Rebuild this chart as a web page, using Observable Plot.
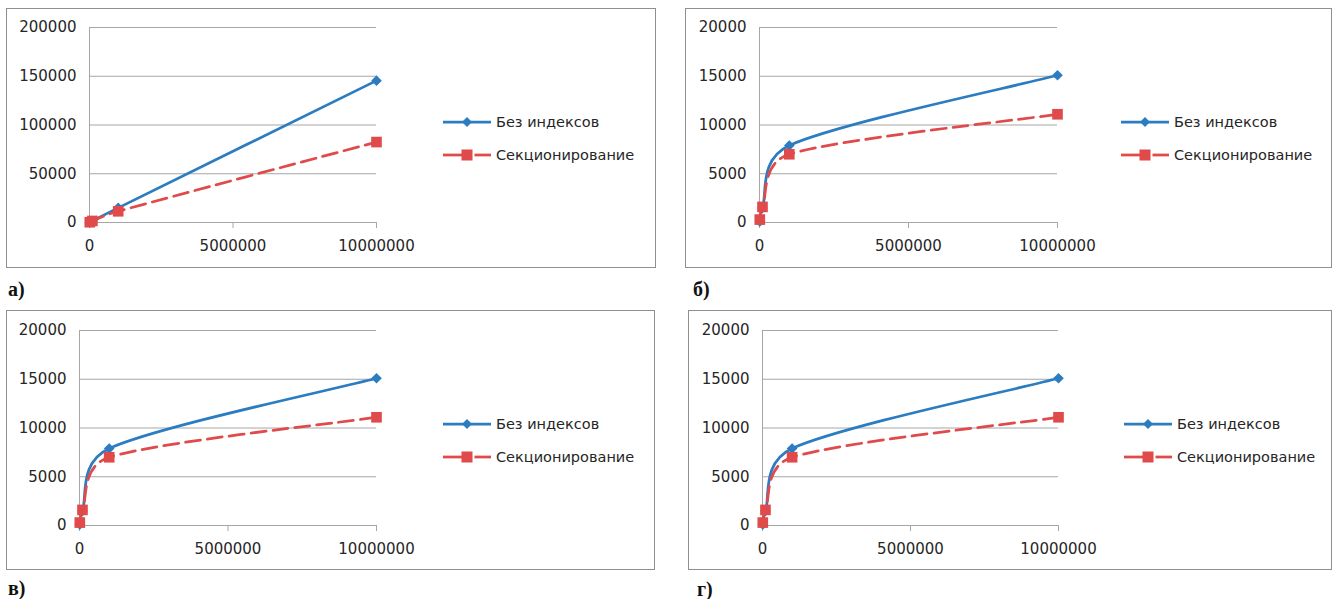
<!DOCTYPE html>
<html>
<head>
<meta charset="utf-8">
<script src="https://cdn.jsdelivr.net/npm/d3@7"></script>
<script src="https://cdn.jsdelivr.net/npm/@observablehq/plot@0.6"></script>
<style>
  body { margin: 0; background: #fff; }
  #page { position: relative; width: 1335px; height: 599px; overflow: hidden; font-family: "DejaVu Sans", sans-serif; }
  .box { position: absolute; border: 1px solid #8f8f8f; box-sizing: border-box; }
  .tag { position: absolute; font-family: "Liberation Serif", serif; font-weight: bold; font-size: 20px; line-height: 18px; color: #111; }
  .legend-row { position: absolute; height: 20px; display: flex; align-items: center; font-size: 14.5px; color: #262626; white-space: nowrap; }
  .legend-row svg { margin-right: 5px; }
  svg.chart { position: absolute; }
</style>
</head>
<body>
<div id="page"></div>
<script>
// Table sizes (rows) on the x axis
const sizes = [10000, 100000, 1000000, 10000000];
const seriesNames = ["Без индексов", "Секционирование"];
const panelTags = ["а)", "б)", "в)", "г)"];

// Query time per panel: without indexes vs. partitioning
const noIndexA = [100, 1500, 15000, 145500];
const partitionA = [300, 1600, 11500, 82500];
const noIndexB = [100, 1500, 7900, 15100];
const partitionB = [300, 1600, 7000, 11100];
const noIndexC = [100, 1500, 7900, 15100];
const partitionC = [300, 1600, 7000, 11100];
const noIndexD = [100, 1500, 7900, 15100];
const partitionD = [300, 1600, 7000, 11100];

const xTicks = [0, 5000000, 10000000];
const yTicksA = [0, 50000, 100000, 150000, 200000];
const yTicksOther = [0, 5000, 10000, 15000, 20000];

const BLUE = "#2b7cc0";
const RED = "#e04a4a";
const GRID = "#a6a6a6";
const TEXT = "#262626";

// Page layout of the four panels: box edges and plot frame edges
const layout = [
  { box: [6, 8, 656, 268],    frame: [89, 27, 376, 222],  legend: [443, 122, 155], tag: [8, 280] },
  { box: [685, 8, 1332, 268], frame: [759, 27, 1057, 222], legend: [1121, 122, 155], tag: [693, 280] },
  { box: [6, 310, 655, 570],  frame: [79, 330, 376, 525],  legend: [443, 424, 457], tag: [8, 579] },
  { box: [688, 310, 1332, 570], frame: [762, 330, 1058, 525], legend: [1124, 424, 457], tag: [697, 580] }
];

const seriesSets = [
  [noIndexA, partitionA, yTicksA],
  [noIndexB, partitionB, yTicksOther],
  [noIndexC, partitionC, yTicksOther],
  [noIndexD, partitionD, yTicksOther]
];

// Spreadsheet-style smoothed line: cubic Bézier segments with 1/6 tension,
// control arms capped at half of the segment length.
function SmoothCurve(context) { this._context = context; }
SmoothCurve.prototype = {
  areaStart() { this._line = 0; },
  areaEnd() { this._line = NaN; },
  lineStart() { this._pts = []; },
  point(x, y) { this._pts.push([+x, +y]); },
  lineEnd() {
    const p = this._pts, c = this._context, n = p.length;
    if (!n) return;
    c.moveTo(p[0][0], p[0][1]);
    const dist = (a, b) => Math.hypot(b[0] - a[0], b[1] - a[1]);
    for (let i = 0; i < n - 1; i++) {
      const P0 = p[Math.max(i - 1, 0)], P1 = p[i], P2 = p[i + 1], P3 = p[Math.min(i + 2, n - 1)];
      const d12 = dist(P1, P2), d02 = dist(P0, P2), d13 = dist(P1, P3);
      let f1 = 1 / 6, f2 = 1 / 6;
      if (d02 / 6 > d12 / 2) f1 = d12 / (2 * d02);
      if (d13 / 6 > d12 / 2) f2 = d12 / (2 * d13);
      const c1 = [P1[0] + f1 * (P2[0] - P0[0]), P1[1] + f1 * (P2[1] - P0[1])];
      const c2 = [P2[0] - f2 * (P3[0] - P1[0]), P2[1] - f2 * (P3[1] - P1[1])];
      c.bezierCurveTo(c1[0], c1[1], c2[0], c2[1], P2[0], P2[1]);
    }
  }
};
const smooth = context => new SmoothCurve(context);

const page = document.getElementById("page");
const plain = d => String(d);

function rows(values) {
  return sizes.map((x, i) => ({ x, y: values[i] }));
}

function drawPanel(l, set, tag) {
  const [blue, red, yTicks] = set;
  const [bx0, by0, bx1, by1] = l.box;
  const [fx0, fy0, fx1, fy1] = l.frame;

  const box = document.createElement("div");
  box.className = "box";
  Object.assign(box.style, { left: bx0 + "px", top: by0 + "px", width: (bx1 - bx0) + "px", height: (by1 - by0) + "px" });
  page.appendChild(box);

  const marginRight = 50;
  const width = (fx1 - bx0) + marginRight;
  const height = by1 - by0;
  const blueRows = rows(blue);
  const redRows = rows(red);

  const chart = Plot.plot({
    width,
    height,
    marginLeft: fx0 - bx0,
    marginRight,
    marginTop: fy0 - by0,
    marginBottom: by1 - fy1,
    style: { fontFamily: "'DejaVu Sans', sans-serif", fontSize: "15px", color: TEXT, background: "transparent", overflow: "visible" },
    x: { domain: [0, 10000000], label: null },
    y: { domain: [0, yTicks[yTicks.length - 1]], label: null },
    marks: [
      Plot.gridY(yTicks, { stroke: GRID, strokeOpacity: 1, strokeWidth: 1 }),
      Plot.ruleX([0], { stroke: GRID, strokeWidth: 1 }),
      Plot.axisY(yTicks, { tickSize: 0, tickPadding: 13, tickFormat: plain, fill: TEXT, label: null }),
      Plot.axisX(xTicks, { tickSize: 6, tickPadding: 12, tickFormat: plain, stroke: GRID, fill: TEXT, label: null }),
      Plot.line(blueRows, { x: "x", y: "y", stroke: BLUE, strokeWidth: 2.75, curve: smooth }),
      Plot.line(redRows, { x: "x", y: "y", stroke: RED, strokeWidth: 2.75, strokeDasharray: "15,7", curve: smooth }),
      Plot.dot(blueRows, { x: "x", y: "y", symbol: "diamond2", r: 4.8, fill: BLUE, stroke: "none" }),
      Plot.dot(redRows, { x: "x", y: "y", symbol: "square", r: 6, fill: RED, stroke: "none" })
    ]
  });
  chart.classList.add("chart");
  chart.style.left = bx0 + "px";
  chart.style.top = by0 + "px";
  page.appendChild(chart);

  // Legend
  const [lx, ly1, ly2] = l.legend;
  [[ly1, BLUE, seriesNames[0], "diamond"], [ly2, RED, seriesNames[1], "square"]].forEach(([cy, color, name, kind]) => {
    const row = document.createElement("div");
    row.className = "legend-row";
    row.style.left = lx + "px";
    row.style.top = (cy - 10) + "px";
    const ns = "http://www.w3.org/2000/svg";
    const sw = document.createElementNS(ns, "svg");
    sw.setAttribute("width", 48);
    sw.setAttribute("height", 14);
    if (kind === "diamond") {
      sw.innerHTML = `<line x1="0" y1="7" x2="48" y2="7" stroke="${color}" stroke-width="2.75"/>` +
        `<path d="M24,2L29,7L24,12L19,7Z" fill="${color}"/>`;
    } else {
      sw.innerHTML = `<line x1="0" y1="7" x2="19" y2="7" stroke="${color}" stroke-width="2.75"/>` +
        `<rect x="18.5" y="1.5" width="11" height="11" fill="${color}"/>` +
        `<line x1="31.5" y1="7" x2="48" y2="7" stroke="${color}" stroke-width="2.75"/>`;
    }
    row.appendChild(sw);
    const t = document.createElement("span");
    t.textContent = name;
    row.appendChild(t);
    page.appendChild(row);
  });

  const tg = document.createElement("div");
  tg.className = "tag";
  tg.textContent = tag;
  tg.style.left = l.tag[0] + "px";
  tg.style.top = l.tag[1] + "px";
  page.appendChild(tg);
}

layout.forEach((l, i) => drawPanel(l, seriesSets[i], panelTags[i]));
</script>
</body>
</html>
